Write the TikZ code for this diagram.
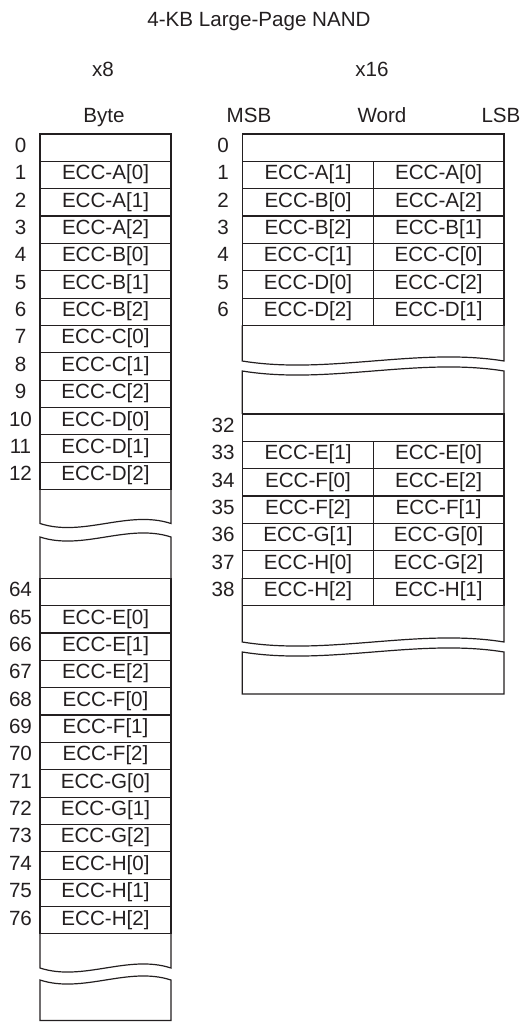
\documentclass[tikz,border=0pt]{standalone}
\usepackage{fontspec}
\setmainfont{Liberation Sans}
\definecolor{inkGrey}{RGB}{35, 31, 32}

\begin{document}
\begin{tikzpicture}[x=1pt, y=-1pt, line width=1.2pt, draw=inkGrey,
    celltext/.style={font=\fontsize{20.6}{24}\selectfont, text=inkGrey, inner sep=0pt, anchor=base},
    rowcell/.style={draw=inkGrey}]
  \useasboundingbox (0,0) rectangle (530,1022);

  % headings
  \node[celltext] (title) at (259,26.5) {4-KB Large-Page NAND};
  \node[celltext] (xeight) at (103,77) {x8};
  \node[celltext] (xsixteen) at (372,77) {x16};
  \node[celltext] (byte) at (104,122) {Byte};
  \node[celltext] (msb) at (249,122) {MSB};
  \node[celltext] (word) at (382,122) {Word};
  \node[celltext] (lsb) at (501,122) {LSB};

  % x8 column: empty rows 0 and 64
  \draw[rowcell] (40,134) rectangle (171,161.35);
  \node[celltext] (bn0) at (20.5,152.5) {0};
  \draw[rowcell] (40,578.3) rectangle (171,605.65);
  \node[celltext] (bn64) at (20.5,596.8) {64};

  % x8 column: rows 1-12 and 65-76
  \foreach \lo/\hi [count=\i] in {A[0]/E[0],A[1]/E[1],A[2]/E[2],B[0]/F[0],B[1]/F[1],B[2]/F[2],
      C[0]/G[0],C[1]/G[1],C[2]/G[2],D[0]/H[0],D[1]/H[1],D[2]/H[2]} {
    \pgfmathsetmacro\rowy{134+\i*27.35}
    \pgfmathsetmacro\rowz{578.3+\i*27.35}
    \pgfmathtruncatemacro\num{64+\i}
    \draw[rowcell] (40,\rowy) rectangle (171,\rowy+27.35);
    \node[celltext] (b\i) at (105.5,\rowy+18.5) {ECC-\lo};
    \node[celltext] (bn\i) at (20.5,\rowy+18.5) {\i};
    \draw[rowcell] (40,\rowz) rectangle (171,\rowz+27.35);
    \node[celltext] (b\num) at (105.5,\rowz+18.5) {ECC-\hi};
    \node[celltext] (bn\num) at (20.5,\rowz+18.5) {\num};
  }

  % x8 column: breaks after rows 12 and 76
  \draw (40,489.55) -- (40,523.5) .. controls (83,537.5) and (128,509.5) .. (171,523.5) -- (171,489.55);
  \draw (40,578.3) -- (40,537) .. controls (83,551) and (128,523) .. (171,537) -- (171,578.3);
  \draw (40,933.85) -- (40,968) .. controls (83,982) and (128,954) .. (171,968) -- (171,933.85);
  \draw (40,1020.5) -- (40,980) .. controls (83,994) and (128,966) .. (171,980) -- (171,1020.5) -- cycle;

  % x16 column: empty rows 0 and 32
  \draw[rowcell] (242.3,134) rectangle (504,161.35);
  \node[celltext] (wn0) at (223,152.5) {0};
  \draw[rowcell] (242.3,414) rectangle (504,441.35);
  \node[celltext] (wn32) at (223,432.5) {32};

  % x16 column: rows 1-6 and 33-38, MSB byte left, LSB byte right
  \foreach \msb/\lsb/\msbz/\lsbz [count=\i] in {A[1]/A[0]/E[1]/E[0], B[0]/A[2]/F[0]/E[2],
      B[2]/B[1]/F[2]/F[1], C[1]/C[0]/G[1]/G[0], D[0]/C[2]/H[0]/G[2], D[2]/D[1]/H[2]/H[1]} {
    \pgfmathsetmacro\rowy{134+\i*27.35}
    \pgfmathsetmacro\rowz{414+\i*27.35}
    \pgfmathtruncatemacro\num{32+\i}
    \draw[rowcell] (242.3,\rowy) rectangle (373.3,\rowy+27.35) rectangle (504,\rowy);
    \node[celltext] (wm\i) at (308,\rowy+18.5) {ECC-\msb};
    \node[celltext] (wl\i) at (438.6,\rowy+18.5) {ECC-\lsb};
    \node[celltext] (wn\i) at (223,\rowy+18.5) {\i};
    \draw[rowcell] (242.3,\rowz) rectangle (373.3,\rowz+27.35) rectangle (504,\rowz);
    \node[celltext] (wm\num) at (308,\rowz+18.5) {ECC-\msbz};
    \node[celltext] (wl\num) at (438.6,\rowz+18.5) {ECC-\lsbz};
    \node[celltext] (wn\num) at (223,\rowz+18.5) {\num};
  }

  % x16 column: breaks after rows 6 and 38
  \draw (242.3,325.45) -- (242.3,361) .. controls (328,375) and (418,347) .. (504,361) -- (504,325.45);
  \draw (242.3,414) -- (242.3,371) .. controls (328,385) and (418,357) .. (504,371) -- (504,414);
  \draw (242.3,578.1) -- (242.3,642) .. controls (328,656) and (418,628) .. (504,642) -- (504,578.1);
  \draw (242.3,694) -- (242.3,652) .. controls (328,666) and (418,638) .. (504,652) -- (504,694) -- cycle;
\end{tikzpicture}
\end{document}
